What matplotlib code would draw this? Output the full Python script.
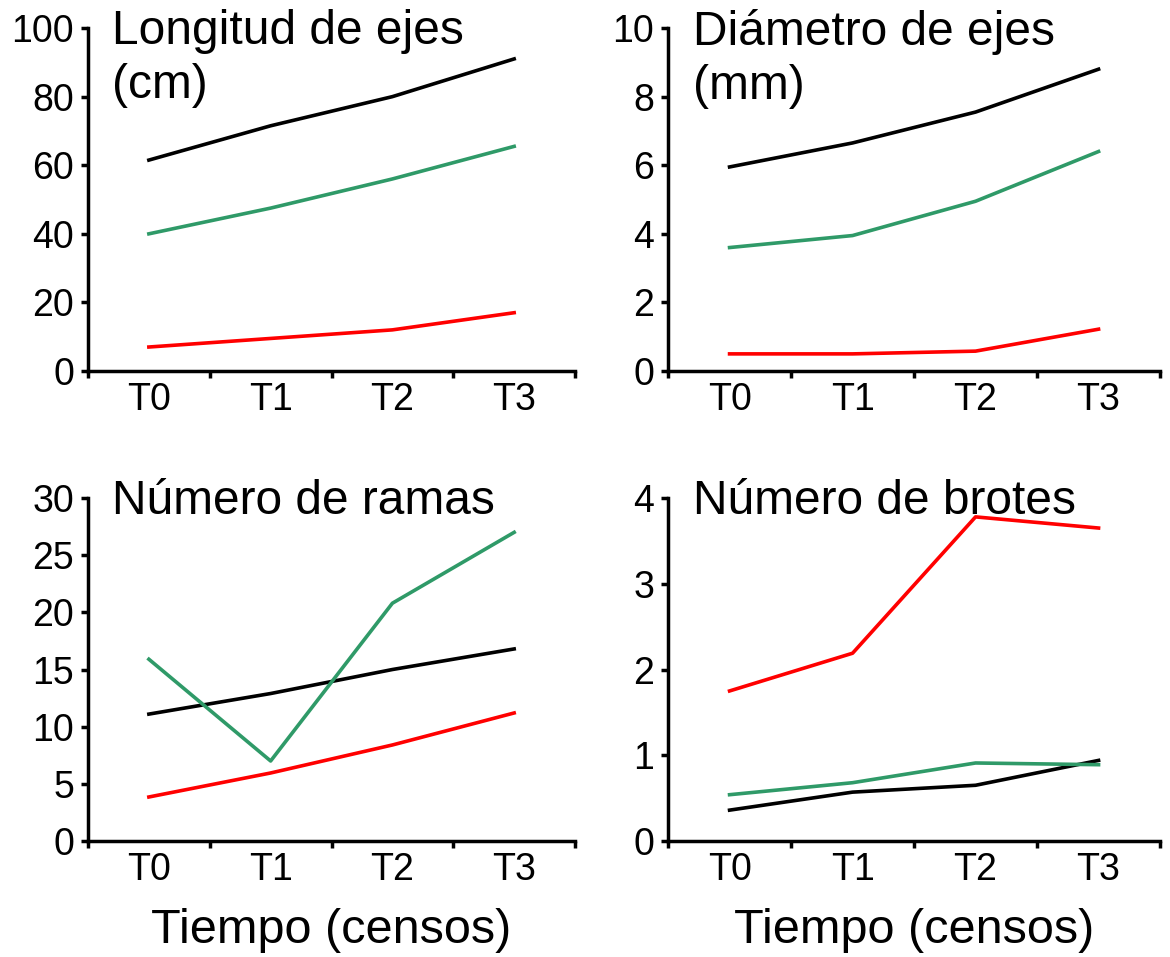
import matplotlib
matplotlib.use("Agg")
import matplotlib.pyplot as plt

plt.rcParams['font.family'] = ['Liberation Sans', 'DejaVu Sans']

censos = ['T0', 'T1', 'T2', 'T3']

# longitud de ejes (cm)
long_negro = [61.5, 71.5, 80, 91]
long_verde = [40, 47.5, 56, 65.5]
long_rojo = [7, 9.5, 12, 17]

# diametro de ejes (mm)
diam_negro = [5.95, 6.65, 7.55, 8.8]
diam_verde = [3.6, 3.95, 4.95, 6.4]
diam_rojo = [0.5, 0.5, 0.58, 1.22]

# numero de ramas
ramas_negro = [11.1, 12.9, 15.0, 16.8]
ramas_verde = [15.9, 7.0, 20.8, 27.0]
ramas_rojo = [3.85, 5.95, 8.4, 11.2]

# numero de brotes
brotes_negro = [0.36, 0.57, 0.65, 0.94]
brotes_verde = [0.54, 0.68, 0.91, 0.89]
brotes_rojo = [1.75, 2.19, 3.78, 3.65]

paneles = [
    ("Longitud de ejes\n(cm)", long_negro, long_verde, long_rojo, 100, 20, False),
    ("Diámetro de ejes\n(mm)", diam_negro, diam_verde, diam_rojo, 10, 2, False),
    ("Número de ramas", ramas_negro, ramas_verde, ramas_rojo, 30, 5, True),
    ("Número de brotes", brotes_negro, brotes_verde, brotes_rojo, 4, 1, True),
]

posiciones = [
    [0.0752, 0.6123, 0.4163, 0.3584],
    [0.5710, 0.6123, 0.4205, 0.3584],
    [0.0752, 0.1212, 0.4163, 0.3584],
    [0.5710, 0.1212, 0.4205, 0.3584],
]

fig = plt.figure(figsize=(11.7, 9.57), dpi=100)

for pos, (titulo, negro, verde, rojo, ymax, paso, abajo) in zip(posiciones, paneles):
    ax = fig.add_axes(pos)
    x = list(range(len(censos)))
    ax.plot(x, negro, color='black', lw=2.6)
    ax.plot(x, verde, color='#2f9a68', lw=2.6)
    ax.plot(x, rojo, color='#ff0000', lw=2.6)
    ax.set_xlim(-0.5, len(censos) - 0.5)
    ax.set_ylim(0, ymax)
    ax.set_yticks([i * paso for i in range(int(ymax / paso) + 1)])
    ax.set_xticks([i - 0.5 for i in range(len(censos) + 1)])
    ax.set_xticklabels([])
    ax.set_xticks(x, minor=True)
    ax.set_xticklabels(censos, minor=True)
    ax.tick_params(axis='x', which='minor', length=0, labelsize=27, pad=8)
    ax.tick_params(axis='x', which='major', length=5, width=2.5, direction='out')
    ax.tick_params(axis='y', length=5, width=2.5, labelsize=27, pad=5)
    for s in ['top', 'right']:
        ax.spines[s].set_visible(False)
    for s in ['left', 'bottom']:
        ax.spines[s].set_linewidth(2.5)
    ax.text(0.05, 1.055, titulo, transform=ax.transAxes, fontsize=34.5,
            va='top', ha='left', linespacing=1.25)
    if abajo:
        ax.set_xlabel('Tiempo (censos)', fontsize=35, labelpad=14)

fig.savefig('out.png', dpi=100)
